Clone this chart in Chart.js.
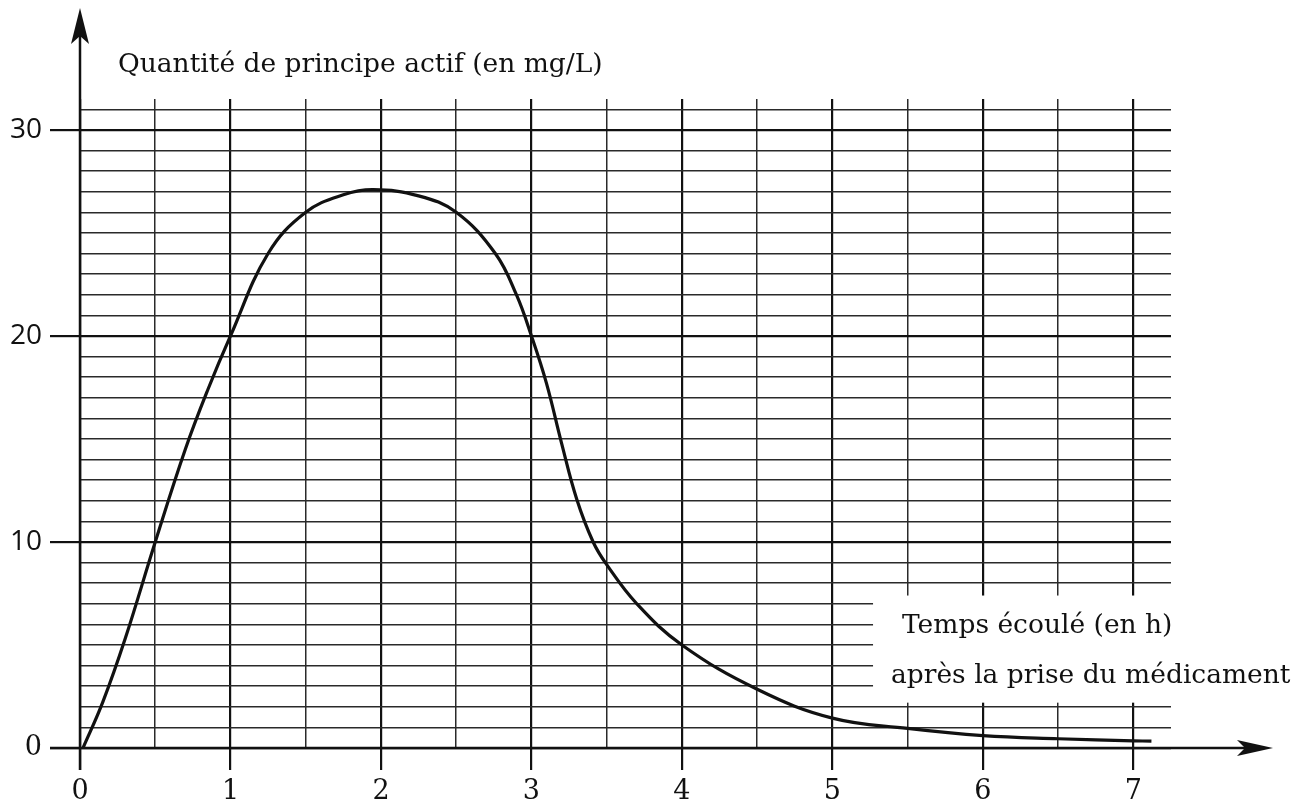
<!DOCTYPE html>
<html>
<head>
<meta charset="utf-8">
<script src="https://cdn.jsdelivr.net/npm/chart.js@4.4.1/dist/chart.umd.min.js"></script>
<style>
  html, body { margin: 0; padding: 0; background: #fff; }
  #chart { display: block; }
</style>
</head>
<body>
<canvas id="chart" width="1314" height="805"></canvas>
<script>
// values
const times = [0.02, 0.15, 0.3, 0.5, 0.7, 0.85, 1, 1.25, 1.5, 1.75, 1.95, 2.25, 2.5, 2.76, 2.9, 3, 3.1, 3.2, 3.3, 3.41, 3.5, 3.7, 4, 4.5, 5, 5.5, 6, 6.5, 7, 7.12]
const quantities = [0, 2.2, 5.3, 10, 14.5, 17.4, 20, 24, 26, 26.85, 27.1, 26.8, 26, 24, 22, 20, 17.7, 14.8, 12.1, 10, 8.9, 7, 5, 2.85, 1.45, 0.95, 0.6, 0.45, 0.35, 0.33]

const xTickLabels = ['0', '1', '2', '3', '4', '5', '6', '7']
const yTickLabels = { 0: '0', 10: '10', 20: '20', 30: '30' }
const yTitle = 'Quantité de principe actif (en mg/L)'
const xTitle = ['Temps écoulé (en h)', 'après la prise du médicament']

const serif = '"DejaVu Serif", "Liberation Serif", serif'
const ink = '#111'
const none = 'rgba(0,0,0,0)'

const isMajorX = ctx => ctx.tick && Number.isInteger(ctx.tick.value)
const isMajorY = ctx => ctx.tick && ctx.tick.value % 10 === 0

// white band behind the x axis caption, axis arrows and captions
const paperPlugin = {
  id: 'paper',
  beforeDatasetsDraw(chart) {
    const { ctx, scales: { x, y } } = chart
    const left = x.getPixelForValue(5.27)
    const top = y.getPixelForValue(7.4)
    const bottom = y.getPixelForValue(2.2)
    ctx.save()
    ctx.fillStyle = '#fff'
    ctx.fillRect(left, top, chart.width - left, bottom - top)
    ctx.restore()
  },
  afterDraw(chart) {
    const { ctx, scales: { x, y } } = chart
    const x0 = x.getPixelForValue(0)
    const y0 = y.getPixelForValue(0)
    ctx.save()
    ctx.strokeStyle = ink
    ctx.fillStyle = ink
    ctx.lineWidth = 2.5

    ctx.beginPath()
    ctx.moveTo(x0, y0 + 22)
    ctx.lineTo(x0, 30)
    ctx.stroke()
    ctx.beginPath()
    ctx.moveTo(x0, 8)
    ctx.lineTo(x0 - 9, 44)
    ctx.lineTo(x0, 36)
    ctx.lineTo(x0 + 9, 44)
    ctx.closePath()
    ctx.fill()

    ctx.beginPath()
    ctx.moveTo(50, y0)
    ctx.lineTo(1255, y0)
    ctx.stroke()
    ctx.beginPath()
    ctx.moveTo(1273, y0)
    ctx.lineTo(1237, y0 - 8)
    ctx.lineTo(1245, y0)
    ctx.lineTo(1237, y0 + 8)
    ctx.closePath()
    ctx.fill()

    ctx.font = '26.5px ' + serif
    ctx.textBaseline = 'alphabetic'
    ctx.textAlign = 'left'
    ctx.fillText(yTitle, 118, 72)
    ctx.fillText(xTitle[0], 902, 633)
    ctx.fillText(xTitle[1], 891, 683)
    ctx.restore()
  }
}

const chart = new Chart(document.getElementById('chart'), {
  type: 'line',
  data: {
    datasets: [{
      data: times.map((t, i) => ({ x: t, y: quantities[i] })),
      borderColor: ink,
      borderWidth: 3.2,
      pointRadius: 0,
      fill: false,
      tension: 0.4
    }]
  },
  options: {
    responsive: false,
    animation: false,
    layout: { padding: { top: 99, right: 143, left: 0, bottom: 0 } },
    plugins: {
      legend: { display: false },
      tooltip: { enabled: false }
    },
    scales: {
      x: {
        type: 'linear',
        min: 0,
        max: 7.25,
        afterFit(scale) { scale.height = 57 },
        border: { display: false },
        grid: {
          color: ctx => isMajorX(ctx) ? ink : '#2a2a2a',
          lineWidth: ctx => isMajorX(ctx) ? 2.2 : 1.5,
          tickColor: ctx => isMajorX(ctx) ? ink : none,
          tickWidth: 2.2,
          tickLength: 22
        },
        ticks: {
          stepSize: 0.5,
          includeBounds: false,
          autoSkip: false,
          maxRotation: 0,
          padding: 6,
          color: ink,
          font: { family: serif, size: 27 },
          callback: v => Number.isInteger(v) ? xTickLabels[v] : ''
        }
      },
      y: {
        type: 'linear',
        min: 0,
        max: 31.5,
        afterFit(scale) { scale.width = 80 },
        border: { display: false },
        grid: {
          color: ctx => isMajorY(ctx) ? ink : '#2a2a2a',
          lineWidth: ctx => isMajorY(ctx) ? 2.2 : 1.5,
          tickColor: ctx => isMajorY(ctx) ? ink : none,
          tickWidth: 2.2,
          tickLength: 30
        },
        ticks: {
          stepSize: 1,
          includeBounds: false,
          autoSkip: false,
          padding: 8,
          color: ink,
          font: ctx => ctx.tick && ctx.tick.value === 0
            ? { family: serif, size: 27 }
            : { family: '"Open Sans", sans-serif', size: 28 },
          callback: v => yTickLabels[v] || ''
        }
      }
    }
  },
  plugins: [paperPlugin]
})
</script>
</body>
</html>
